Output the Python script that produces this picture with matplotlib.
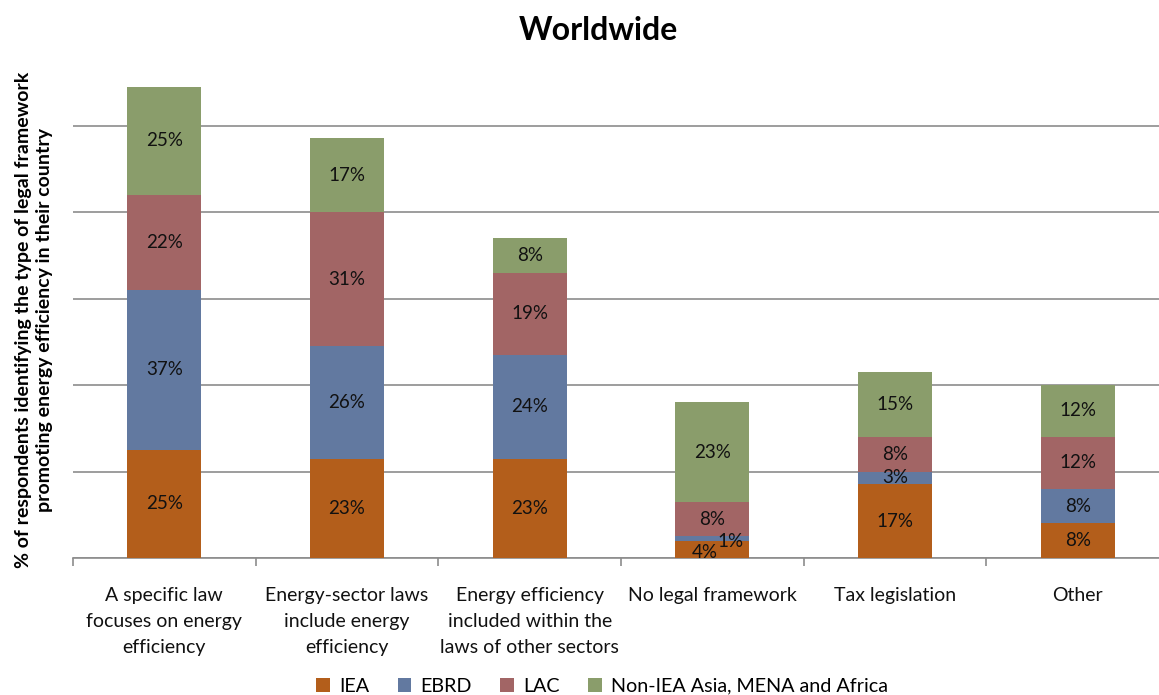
import matplotlib
matplotlib.use("Agg")
import matplotlib.pyplot as plt
from matplotlib.patches import Patch
import numpy as np

plt.rcParams['font.family'] = ['Lato', 'DejaVu Sans']

categories = [
    "A specific law\nfocuses on energy\nefficiency",
    "Energy-sector laws\ninclude energy\nefficiency",
    "Energy efficiency\nincluded within the\nlaws of other sectors",
    "No legal framework",
    "Tax legislation",
    "Other",
]
series_names = ["IEA", "EBRD", "LAC", "Non-IEA Asia, MENA and Africa"]
iea = [25, 23, 23, 4, 17, 8]
ebrd = [37, 26, 24, 1, 3, 8]
lac = [22, 31, 19, 8, 8, 12]
other_regions = [25, 17, 8, 23, 15, 12]
colors = ["#B35E1B", "#6279A0", "#A26565", "#8A9D6B"]

fig = plt.figure(figsize=(11.59, 6.95), dpi=100)
ax = fig.add_axes([73 / 1159, 137 / 695, 1096 / 1159, 519 / 695])

x = np.arange(len(categories))
width = 0.405
bottom = np.zeros(len(categories))
for vals, col in zip([iea, ebrd, lac, other_regions], colors):
    vals = np.array(vals, dtype=float)
    ax.bar(x, vals, width, bottom=bottom, color=col, zorder=3)
    for i, (v, b) in enumerate(zip(vals, bottom)):
        xi, yi = x[i], b + v / 2
        if v == 1:
            # tiny segment: label sits beside it
            xi, yi = x[i] + 0.1, 3.7
        elif v == 4:
            xi, yi = x[i] - 0.04, 1.2
        ax.text(xi, yi, f"{int(v)}%", ha="center", va="center",
                fontsize=13.5, color="#111111", zorder=4)
    bottom += vals

ax.set_xlim(-0.5, len(categories) - 0.5)
ax.set_ylim(0, 120)
ax.set_yticks([0, 20, 40, 60, 80, 100])
ax.set_yticklabels([])
ax.yaxis.grid(True, color="#8C8C8C", linewidth=1.2, zorder=0)
ax.tick_params(axis="y", length=0)

ax.set_xticks(x)
ax.set_xticklabels(categories, fontsize=14, linespacing=1.65, color="#111111")
ax.set_xticks(np.arange(-0.5, len(categories)), minor=True)
ax.tick_params(axis="x", which="major", length=0, pad=21)
ax.tick_params(axis="x", which="minor", length=6, color="#8C8C8C", width=1.2)

for side in ["top", "right", "left"]:
    ax.spines[side].set_visible(False)
ax.spines["bottom"].set_color("#8C8C8C")
ax.spines["bottom"].set_linewidth(1.2)

fig.text(598 / 1159, 1 - 30 / 695, "Worldwide", ha="center", va="center",
         fontsize=23, fontweight="bold")
fig.text(34 / 1159, 1 - 320 / 695,
         "% of respondents identifying the type of legal framework\npromoting energy efficiency in their country",
         rotation=90, ha="center", va="center", fontsize=14,
         fontweight="bold", linespacing=1.3)

handles = [Patch(facecolor=c, edgecolor="none") for c in colors]
fig.legend(handles, series_names, loc="center", ncol=4,
           bbox_to_anchor=(602 / 1159, 1 - 686 / 695), frameon=False,
           fontsize=14.2, handlelength=0.7, handleheight=0.7,
           handletextpad=0.45, columnspacing=1.45)

fig.savefig("out.png", dpi=100)
